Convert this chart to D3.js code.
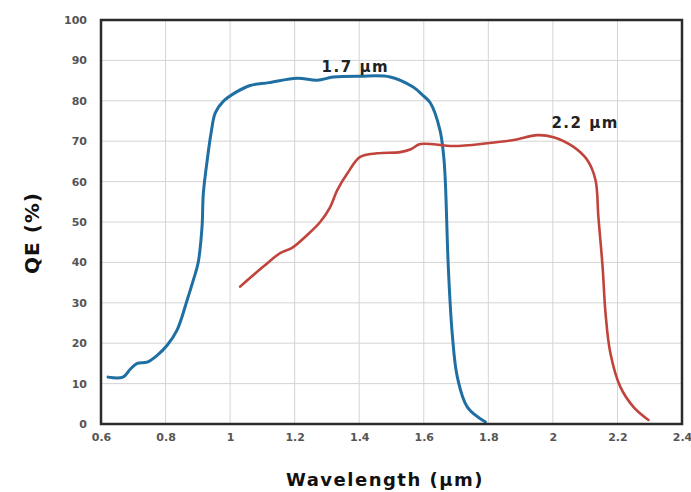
<!DOCTYPE html>
<html>
<head>
<meta charset="utf-8">
<script src="https://cdn.jsdelivr.net/npm/d3@7"></script>
<style>
	body { margin: 0; background: #fff; }
	svg { display: block; }
	.tick text { font-family: 'DejaVu Sans', sans-serif; font-weight: bold; font-size: 11px; fill: #555; }
</style>
</head>
<body>
<svg id="chart"></svg>
<script>
// blue curve (1.7 µm cutoff): wavelength (µm), QE (%)
const blueWl = [0.622, 0.668, 0.69, 0.712, 0.743, 0.774, 0.805, 0.836, 0.867, 0.886, 0.901, 0.913, 0.917, 0.929, 0.941, 0.954, 0.978, 1.02, 1.062, 1.12, 1.208, 1.27, 1.32, 1.403, 1.496, 1.567, 1.595, 1.62, 1.65, 1.662, 1.667, 1.676, 1.688, 1.704, 1.735, 1.791];
const blueQE = [11.6, 11.6, 13.5, 15, 15.3, 17, 19.5, 23.3, 30.7, 35.6, 39.9, 48.8, 57, 65.3, 72, 77, 79.8, 82.2, 83.8, 84.5, 85.6, 85.1, 85.9, 86.1, 85.9, 83.4, 81.5, 79.5, 72.8, 66, 59.6, 38.9, 22.5, 11.6, 4.2, 0.5];

// red curve (2.2 µm cutoff)
const redWl = [1.031, 1.102, 1.155, 1.192, 1.239, 1.279, 1.31, 1.332, 1.363, 1.403, 1.456, 1.527, 1.56, 1.589, 1.692, 1.797, 1.878, 1.952, 2.002, 2.064, 2.107, 2.132, 2.141, 2.154, 2.163, 2.178, 2.209, 2.25, 2.296];
const redQE = [34, 38.9, 42.3, 43.6, 46.8, 50, 53.7, 57.9, 62, 66.1, 67, 67.3, 68, 69.3, 68.8, 69.5, 70.3, 71.5, 71, 68.6, 65.3, 60.4, 51.2, 38.9, 27.5, 17.6, 9.2, 4.2, 1];

const xTicks = [0.6, 0.8, 1, 1.2, 1.4, 1.6, 1.8, 2, 2.2, 2.4];
const yTicks = [0, 10, 20, 30, 40, 50, 60, 70, 80, 90, 100];

const labels = [
	{ text: '1.7 \u00b5m', wl: 1.388, qe: 87.1 },
	{ text: '2.2 \u00b5m', wl: 2.10, qe: 73.3 }
];

const fullWidth = 691, fullHeight = 492;
const margin = { top: 20, right: 9, bottom: 68, left: 101 };
const width = fullWidth - margin.left - margin.right;
const height = fullHeight - margin.top - margin.bottom;

const svg = d3.select('#chart').attr('width', fullWidth).attr('height', fullHeight);
const g = svg.append('g').attr('transform', `translate(${margin.left},${margin.top})`);

const x = d3.scaleLinear().domain([0.6, 2.4]).range([0, width]);
const y = d3.scaleLinear().domain([0, 100]).range([height, 0]);

// grid
g.append('g').selectAll('line').data(xTicks.slice(1, -1)).join('line')
	.attr('x1', d => x(d)).attr('x2', d => x(d)).attr('y1', 0).attr('y2', height)
	.attr('stroke', '#d4d4d4').attr('stroke-width', 1);
g.append('g').selectAll('line').data(yTicks.slice(1, -1)).join('line')
	.attr('y1', d => y(d)).attr('y2', d => y(d)).attr('x1', 0).attr('x2', width)
	.attr('stroke', '#d4d4d4').attr('stroke-width', 1);

// axes (labels only)
const xAxisG = g.append('g').attr('transform', `translate(0,${height})`)
	.call(d3.axisBottom(x).tickValues(xTicks).tickSize(0).tickPadding(9).tickFormat(d => d3.format('')(+d.toFixed(1))));
xAxisG.select('.domain').remove();
const yAxisG = g.append('g')
	.call(d3.axisLeft(y).tickValues(yTicks).tickSize(0).tickPadding(14));
yAxisG.select('.domain').remove();

const line = d3.line().x(d => x(d[0])).y(d => y(d[1])).curve(d3.curveCatmullRom.alpha(0.5));

g.append('path').datum(blueWl.map((w, i) => [w, blueQE[i]]))
	.attr('d', line).attr('fill', 'none').attr('stroke', '#1f6fa3').attr('stroke-width', 3)
	.attr('stroke-linejoin', 'round').attr('stroke-linecap', 'round');
g.append('path').datum(redWl.map((w, i) => [w, redQE[i]]))
	.attr('d', line).attr('fill', 'none').attr('stroke', '#c0443b').attr('stroke-width', 2.6)
	.attr('stroke-linejoin', 'round').attr('stroke-linecap', 'round');

// frame
g.append('rect').attr('width', width).attr('height', height)
	.attr('fill', 'none').attr('stroke', '#2b2b2b').attr('stroke-width', 2.5);

g.selectAll('.curve-label').data(labels).join('text')
	.attr('class', 'curve-label')
	.attr('x', d => x(d.wl)).attr('y', d => y(d.qe))
	.attr('text-anchor', 'middle')
	.style('font-family', 'DejaVu Sans, sans-serif').style('font-weight', 'bold').style('font-size', '15px')
	.style('letter-spacing', '1.5px')
	.attr('fill', '#222')
	.text(d => d.text);

svg.append('text')
	.attr('x', 385).attr('y', 486)
	.attr('text-anchor', 'middle')
	.style('font-family', 'DejaVu Sans, sans-serif').style('font-weight', 'bold').style('font-size', '18px')
	.style('letter-spacing', '1.5px')
	.attr('fill', '#111')
	.text('Wavelength (\u00b5m)');

svg.append('text')
	.attr('transform', `translate(39,233) rotate(-90)`)
	.attr('text-anchor', 'middle')
	.style('font-family', 'DejaVu Sans, sans-serif').style('font-weight', 'bold').style('font-size', '20px')
	.style('letter-spacing', '1px')
	.attr('fill', '#111')
	.text('QE (%)');
</script>
</body>
</html>
